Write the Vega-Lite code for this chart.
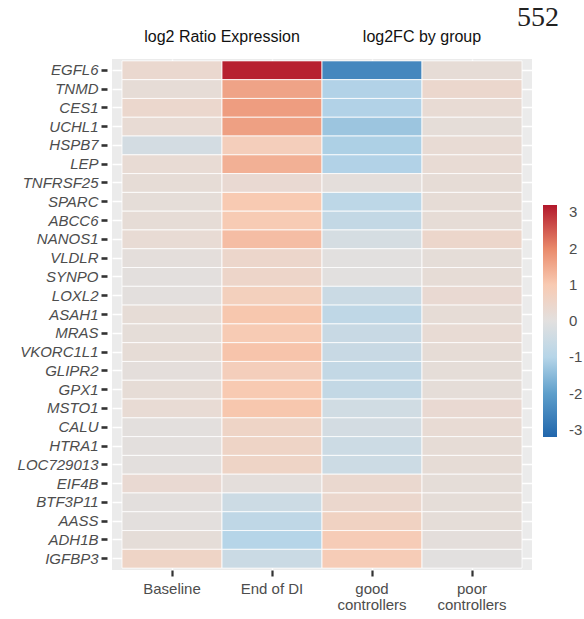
{
  "$schema": "https://vega.github.io/schema/vega-lite/v6.json",
  "width": 420,
  "height": 511,
  "autosize": {"type": "none"},
  "padding": {"left": 112, "top": 59, "right": 52, "bottom": 49},
  "title": {"text": "552", "anchor": "end", "frame": "group", "fontSize": 28, "font": "Liberation Serif", "fontWeight": "normal", "color": "#222222", "baseline": "alphabetic", "offset": 11, "dx": 27, "dy": 37},
  "data": {"values": [
    {"gene": "EGFL6", "group": "Baseline", "value": 0.35}, {"gene": "EGFL6", "group": "End of DI", "value": 3.1}, {"gene": "EGFL6", "group": "good controllers", "value": -2.5}, {"gene": "EGFL6", "group": "poor controllers", "value": 0.2},
    {"gene": "TNMD", "group": "Baseline", "value": 0.2}, {"gene": "TNMD", "group": "End of DI", "value": 1.6}, {"gene": "TNMD", "group": "good controllers", "value": -1.05}, {"gene": "TNMD", "group": "poor controllers", "value": 0.4},
    {"gene": "CES1", "group": "Baseline", "value": 0.4}, {"gene": "CES1", "group": "End of DI", "value": 1.7}, {"gene": "CES1", "group": "good controllers", "value": -1.05}, {"gene": "CES1", "group": "poor controllers", "value": 0.25},
    {"gene": "UCHL1", "group": "Baseline", "value": 0.25}, {"gene": "UCHL1", "group": "End of DI", "value": 1.65}, {"gene": "UCHL1", "group": "good controllers", "value": -1.3}, {"gene": "UCHL1", "group": "poor controllers", "value": 0.15},
    {"gene": "HSPB7", "group": "Baseline", "value": -0.35}, {"gene": "HSPB7", "group": "End of DI", "value": 0.8}, {"gene": "HSPB7", "group": "good controllers", "value": -1.1}, {"gene": "HSPB7", "group": "poor controllers", "value": 0.25},
    {"gene": "LEP", "group": "Baseline", "value": 0.25}, {"gene": "LEP", "group": "End of DI", "value": 1.4}, {"gene": "LEP", "group": "good controllers", "value": -1.05}, {"gene": "LEP", "group": "poor controllers", "value": 0.25},
    {"gene": "TNFRSF25", "group": "Baseline", "value": 0.2}, {"gene": "TNFRSF25", "group": "End of DI", "value": 0.3}, {"gene": "TNFRSF25", "group": "good controllers", "value": 0.1}, {"gene": "TNFRSF25", "group": "poor controllers", "value": 0.2},
    {"gene": "SPARC", "group": "Baseline", "value": 0.15}, {"gene": "SPARC", "group": "End of DI", "value": 1.0}, {"gene": "SPARC", "group": "good controllers", "value": -0.85}, {"gene": "SPARC", "group": "poor controllers", "value": 0.2},
    {"gene": "ABCC6", "group": "Baseline", "value": 0.2}, {"gene": "ABCC6", "group": "End of DI", "value": 0.95}, {"gene": "ABCC6", "group": "good controllers", "value": -0.7}, {"gene": "ABCC6", "group": "poor controllers", "value": 0.2},
    {"gene": "NANOS1", "group": "Baseline", "value": 0.25}, {"gene": "NANOS1", "group": "End of DI", "value": 1.2}, {"gene": "NANOS1", "group": "good controllers", "value": -0.3}, {"gene": "NANOS1", "group": "poor controllers", "value": 0.45},
    {"gene": "VLDLR", "group": "Baseline", "value": 0.1}, {"gene": "VLDLR", "group": "End of DI", "value": 0.45}, {"gene": "VLDLR", "group": "good controllers", "value": 0.0}, {"gene": "VLDLR", "group": "poor controllers", "value": 0.15},
    {"gene": "SYNPO", "group": "Baseline", "value": 0.05}, {"gene": "SYNPO", "group": "End of DI", "value": 0.5}, {"gene": "SYNPO", "group": "good controllers", "value": 0.0}, {"gene": "SYNPO", "group": "poor controllers", "value": 0.2},
    {"gene": "LOXL2", "group": "Baseline", "value": 0.05}, {"gene": "LOXL2", "group": "End of DI", "value": 0.75}, {"gene": "LOXL2", "group": "good controllers", "value": -0.55}, {"gene": "LOXL2", "group": "poor controllers", "value": 0.3},
    {"gene": "ASAH1", "group": "Baseline", "value": 0.2}, {"gene": "ASAH1", "group": "End of DI", "value": 1.05}, {"gene": "ASAH1", "group": "good controllers", "value": -0.8}, {"gene": "ASAH1", "group": "poor controllers", "value": 0.2},
    {"gene": "MRAS", "group": "Baseline", "value": 0.15}, {"gene": "MRAS", "group": "End of DI", "value": 0.95}, {"gene": "MRAS", "group": "good controllers", "value": -0.6}, {"gene": "MRAS", "group": "poor controllers", "value": 0.25},
    {"gene": "VKORC1L1", "group": "Baseline", "value": 0.2}, {"gene": "VKORC1L1", "group": "End of DI", "value": 1.1}, {"gene": "VKORC1L1", "group": "good controllers", "value": -0.6}, {"gene": "VKORC1L1", "group": "poor controllers", "value": 0.2},
    {"gene": "GLIPR2", "group": "Baseline", "value": 0.1}, {"gene": "GLIPR2", "group": "End of DI", "value": 0.8}, {"gene": "GLIPR2", "group": "good controllers", "value": -0.7}, {"gene": "GLIPR2", "group": "poor controllers", "value": 0.15},
    {"gene": "GPX1", "group": "Baseline", "value": 0.2}, {"gene": "GPX1", "group": "End of DI", "value": 1.0}, {"gene": "GPX1", "group": "good controllers", "value": -0.7}, {"gene": "GPX1", "group": "poor controllers", "value": 0.15},
    {"gene": "MSTO1", "group": "Baseline", "value": 0.25}, {"gene": "MSTO1", "group": "End of DI", "value": 1.05}, {"gene": "MSTO1", "group": "good controllers", "value": -0.4}, {"gene": "MSTO1", "group": "poor controllers", "value": 0.3},
    {"gene": "CALU", "group": "Baseline", "value": 0.05}, {"gene": "CALU", "group": "End of DI", "value": 0.55}, {"gene": "CALU", "group": "good controllers", "value": -0.35}, {"gene": "CALU", "group": "poor controllers", "value": 0.25},
    {"gene": "HTRA1", "group": "Baseline", "value": 0.05}, {"gene": "HTRA1", "group": "End of DI", "value": 0.55}, {"gene": "HTRA1", "group": "good controllers", "value": -0.5}, {"gene": "HTRA1", "group": "poor controllers", "value": 0.2},
    {"gene": "LOC729013", "group": "Baseline", "value": 0.05}, {"gene": "LOC729013", "group": "End of DI", "value": 0.55}, {"gene": "LOC729013", "group": "good controllers", "value": -0.5}, {"gene": "LOC729013", "group": "poor controllers", "value": 0.2},
    {"gene": "EIF4B", "group": "Baseline", "value": 0.3}, {"gene": "EIF4B", "group": "End of DI", "value": 0.1}, {"gene": "EIF4B", "group": "good controllers", "value": 0.35}, {"gene": "EIF4B", "group": "poor controllers", "value": 0.15},
    {"gene": "BTF3P11", "group": "Baseline", "value": 0.05}, {"gene": "BTF3P11", "group": "End of DI", "value": -0.5}, {"gene": "BTF3P11", "group": "good controllers", "value": 0.4}, {"gene": "BTF3P11", "group": "poor controllers", "value": 0.15},
    {"gene": "AASS", "group": "Baseline", "value": 0.05}, {"gene": "AASS", "group": "End of DI", "value": -0.8}, {"gene": "AASS", "group": "good controllers", "value": 0.65}, {"gene": "AASS", "group": "poor controllers", "value": 0.15},
    {"gene": "ADH1B", "group": "Baseline", "value": 0.15}, {"gene": "ADH1B", "group": "End of DI", "value": -1.0}, {"gene": "ADH1B", "group": "good controllers", "value": 0.9}, {"gene": "ADH1B", "group": "poor controllers", "value": 0.1},
    {"gene": "IGFBP3", "group": "Baseline", "value": 0.55}, {"gene": "IGFBP3", "group": "End of DI", "value": -0.55}, {"gene": "IGFBP3", "group": "good controllers", "value": 0.9}, {"gene": "IGFBP3", "group": "poor controllers", "value": 0.0}
  ]},
  "resolve": {"axis": {"x": "independent"}},
  "layer": [
    {
      "mark": {"type": "rect", "stroke": "white", "strokeWidth": 0.8},
      "encoding": {
        "x": {"field": "group", "type": "nominal",
              "scale": {"domain": ["Baseline", "End of DI", "good controllers", "poor controllers"], "paddingInner": 0, "paddingOuter": 0.1},
              "axis": {"orient": "bottom", "title": null, "labelAngle": 0, "labelFont": "Liberation Sans", "labelFontSize": 15, "labelColor": "#4D4D4D", "labelPadding": 5, "labelLineHeight": 16,
                       "labelExpr": "datum.label == 'good controllers' ? ['good', 'controllers'] : datum.label == 'poor controllers' ? ['poor', 'controllers'] : datum.label",
                       "tickColor": "#333333", "tickSize": 6, "tickWidth": 2.2, "domain": false, "grid": true, "gridColor": "white", "gridWidth": 1.5, "bandPosition": 0.5, "zindex": 0}},
        "y": {"field": "gene", "type": "nominal",
              "scale": {"domain": ["EGFL6", "TNMD", "CES1", "UCHL1", "HSPB7", "LEP", "TNFRSF25", "SPARC", "ABCC6", "NANOS1", "VLDLR", "SYNPO", "LOXL2", "ASAH1", "MRAS", "VKORC1L1", "GLIPR2", "GPX1", "MSTO1", "CALU", "HTRA1", "LOC729013", "EIF4B", "BTF3P11", "AASS", "ADH1B", "IGFBP3"], "paddingInner": 0, "paddingOuter": 0.1},
              "axis": {"title": null, "labelFont": "Liberation Sans", "labelFontSize": 15, "labelFontStyle": "italic", "labelColor": "#4D4D4D", "labelPadding": 3, "offset": 5,
                       "tickColor": "#333333", "tickSize": 6, "tickWidth": 2.6, "domain": false, "grid": true, "gridColor": "white", "gridWidth": 1.5, "bandPosition": 0.5, "zindex": 0}},
        "color": {"field": "value", "type": "quantitative",
                  "scale": {"domain": [-3.2, -2, -1, 0, 1, 2, 3.2], "range": ["#2166AC", "#5E9FCB", "#B6D5E8", "#E2E0DF", "#F8CAB2", "#E9896A", "#B2182B"], "interpolate": "rgb"},
                  "legend": {"title": null, "orient": "none", "legendX": 431, "legendY": 146, "padding": 0, "direction": "vertical", "gradientLength": 232, "gradientThickness": 14, "gradientStrokeWidth": 0,
                             "values": [-3, -2, -1, 0, 1, 2, 3], "labelExpr": "'' + datum.value", "labelFont": "Liberation Sans", "labelFontSize": 15, "labelColor": "#4D4D4D", "labelOffset": 12}}
      }
    },
    {
      "mark": {"type": "rect", "opacity": 0},
      "encoding": {
        "x": {"field": "group", "type": "nominal",
              "axis": {"orient": "top", "title": null, "labelAngle": 0, "labelFont": "Liberation Sans", "labelFontSize": 16, "labelColor": "#111111", "labelBaseline": "alphabetic", "labelPadding": 18, "labelOffset": 50,
                       "labelExpr": "datum.label == 'Baseline' ? 'log2 Ratio Expression' : datum.label == 'good controllers' ? 'log2FC by group' : ''",
                       "ticks": false, "domain": false, "grid": false, "labelOverlap": false, "labelBound": false, "zindex": 0}},
        "y": {"field": "gene", "type": "nominal"}
      }
    }
  ],
  "config": {"view": {"fill": "#EBEBEB", "stroke": null}, "background": "white"}
}
